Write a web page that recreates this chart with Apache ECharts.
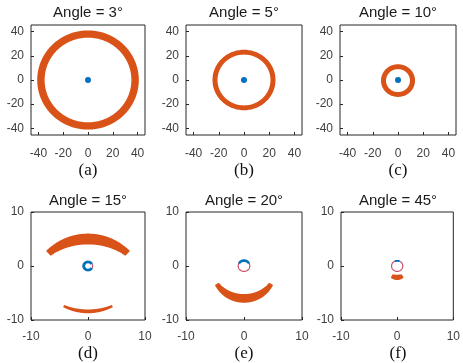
<!DOCTYPE html>
<html>
<head>
<meta charset="utf-8">
<script src="https://cdn.jsdelivr.net/npm/echarts@6/dist/echarts.min.js"></script>
<style>
html,body{margin:0;padding:0;background:#fff;}
#chart{width:463px;height:363px;}
</style>
</head>
<body>
<div id="chart"></div>
<script>
// ---- data ----
const titles = ['Angle = 3°', 'Angle = 5°', 'Angle = 10°', 'Angle = 15°', 'Angle = 20°', 'Angle = 45°'];
const panelLabels = ['(a)', '(b)', '(c)', '(d)', '(e)', '(f)'];
const topTicks = [-40, -20, 0, 20, 40];
const bottomTicks = [-10, 0, 10];
const topRange = [-46, 46];
const topYRange = [-45.5, 45.5];
const bottomRange = [-10, 10];
// blue centre dots in panels a–c: [panel, x, y]
const centerDots = [[0, 0, 0], [1, 0, 0], [2, 0, 0]];
// orange bands: [panel, cx, cy, midRadius, midWidth, endWidth, startDeg, endDeg]
const orangeBands = [
  [0, 0, 0, 38, 6, 6, 0, 360],
  [1, 0, 0, 23, 4, 4, 0, 360],
  [2, 0, -0.5, 11.5, 4, 4, 0, 360],
  [3, 0, -5.4, 10.4, 2.0, 1.2, 48, 132],
  [3, 0, 1.35, 9.75, 0.7, 0.45, -116, -64],
  [4, 0, -0.6, 5.4, 1.6, 0.8, -150, -30],
  [5, 0, 0, 2.1, 1.0, 0.7, -118, -62]
];
// blue arcs around the centre in panels d–f: [panel, cx, cy, midRadius, width, width, startDeg, endDeg]
const blueArcs = [
  [3, 0, 0, 0.75, 0.5, 0.5, 30, 330],
  [4, 0, 0.05, 0.95, 0.5, 0.4, 25, 155],
  [5, 0, 0, 0.95, 0.35, 0.3, 65, 115]
];
// thin red circles: [panel, cx, cy, radius]
const redCircles = [
  [3, 0, 0, 0.8],
  [4, 0, 0, 1.0],
  [5, 0, 0, 1.0]
];

// ---- layout ----
const grids = [
  {left: 31, top: 25, width: 114, height: 110},
  {left: 186, top: 25, width: 116, height: 110},
  {left: 340, top: 25, width: 116, height: 110},
  {left: 31, top: 212, width: 114, height: 108},
  {left: 186, top: 212, width: 116, height: 108},
  {left: 341, top: 212, width: 114, height: 108}
];
const ORANGE = '#D95319', BLUE = '#0072BD', RED = '#C8546C', AX = '#262626';

function bandRender(params, api) {
  const cx = api.value(0), cy = api.value(1), rm = api.value(2), wm = api.value(3), we = api.value(4);
  const a0 = api.value(5), a1 = api.value(6);
  const full = Math.abs(a1 - a0) >= 360;
  const n = 160, outer = [], inner = [];
  for (let i = 0; i <= n; i++) {
    const f = i / n;
    const a = (a0 + (a1 - a0) * f) * Math.PI / 180;
    const w = full ? wm : we + (wm - we) * Math.sin(Math.PI * f);
    outer.push(api.coord([cx + (rm + w / 2) * Math.cos(a), cy + (rm + w / 2) * Math.sin(a)]));
    inner.push(api.coord([cx + (rm - w / 2) * Math.cos(a), cy + (rm - w / 2) * Math.sin(a)]));
  }
  return {type: 'polygon', shape: {points: outer.concat(inner.reverse())}, style: {fill: api.visual('color')}};
}
function circleRender(params, api) {
  const cx = api.value(0), cy = api.value(1), r = api.value(2);
  const pts = [];
  for (let i = 0; i < 80; i++) {
    const a = i / 80 * 2 * Math.PI;
    pts.push(api.coord([cx + r * Math.cos(a), cy + r * Math.sin(a)]));
  }
  return {type: 'polygon', shape: {points: pts}, style: {fill: 'none', stroke: RED, lineWidth: 1.2}};
}

const xAxes = [], yAxes = [], series = [], graphics = [];
grids.forEach((g, i) => {
  const top = i < 3;
  const ticks = top ? topTicks : bottomTicks;
  const common = {
    gridIndex: i, type: 'value', scale: false,
    axisLine: {show: false, onZero: false},
    axisTick: {show: true, inside: true, length: 3, lineStyle: {color: AX}, customValues: ticks},
    axisLabel: {color: '#404040', fontSize: 12, fontFamily: 'Liberation Sans, Arial, sans-serif', customValues: ticks},
    splitLine: {show: false}
  };
  xAxes.push(Object.assign({}, common, {
    position: 'bottom',
    min: top ? topRange[0] : bottomRange[0], max: top ? topRange[1] : bottomRange[1],
    axisLabel: Object.assign({}, common.axisLabel, {margin: top ? 13 : 11})
  }));
  yAxes.push(Object.assign({}, common, {
    position: 'left',
    min: top ? topYRange[0] : bottomRange[0], max: top ? topYRange[1] : bottomRange[1],
    axisLabel: Object.assign({}, common.axisLabel, {margin: 7})
  }));
  const cxp = g.left + g.width / 2;
  graphics.push({type: 'text', x: cxp, y: top ? 13 : 200.5, style: {text: titles[i], textAlign: 'center', textVerticalAlign: 'middle', font: '15px "Liberation Sans", Arial, sans-serif', fill: '#1a1a1a'}});
  graphics.push({type: 'text', x: cxp, y: top ? 171 : 354, style: {text: panelLabels[i], textAlign: 'center', textVerticalAlign: 'middle', font: '17px "Liberation Serif", "Times New Roman", serif', fill: '#111'}});

  series.push({
    type: 'custom', xAxisIndex: i, yAxisIndex: i, renderItem: bandRender, itemStyle: {color: ORANGE},
    encode: {x: 0, y: 1}, silent: true,
    data: orangeBands.filter(d => d[0] === i).map(d => d.slice(1))
  });
  series.push({
    type: 'custom', xAxisIndex: i, yAxisIndex: i, renderItem: circleRender,
    encode: {x: 0, y: 1}, silent: true,
    data: redCircles.filter(d => d[0] === i).map(d => d.slice(1))
  });
  series.push({
    type: 'custom', xAxisIndex: i, yAxisIndex: i, renderItem: bandRender, itemStyle: {color: BLUE},
    encode: {x: 0, y: 1}, silent: true,
    data: blueArcs.filter(d => d[0] === i).map(d => d.slice(1))
  });
  series.push({
    type: 'scatter', xAxisIndex: i, yAxisIndex: i, symbolSize: 6, itemStyle: {color: BLUE, opacity: 1},
    silent: true,
    data: centerDots.filter(d => d[0] === i).map(d => d.slice(1))
  });
});

const chart = echarts.init(document.getElementById('chart'), null, {renderer: 'canvas'});
chart.setOption({
  animation: false,
  backgroundColor: '#fff',
  grid: grids.map(g => Object.assign({show: true, borderColor: AX, borderWidth: 1, backgroundColor: '#fff', containLabel: false}, g)),
  xAxis: xAxes,
  yAxis: yAxes,
  series: series,
  graphic: graphics
});
</script>
</body>
</html>
